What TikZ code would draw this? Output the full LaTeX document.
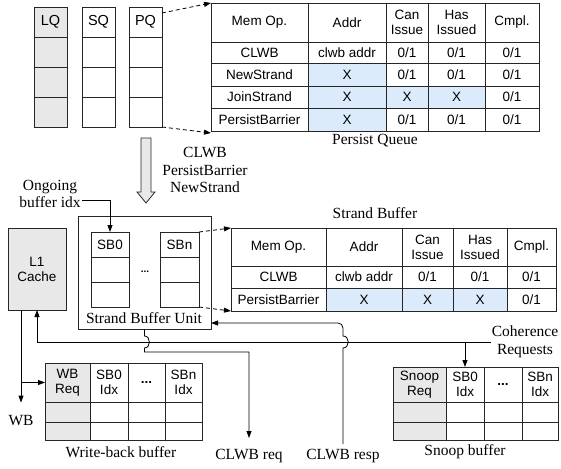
\documentclass[tikz,border=0pt]{standalone}
\usepackage{fontspec}
\setmainfont{Liberation Serif}
\setsansfont{Liberation Sans}
\usetikzlibrary{arrows.meta}

\definecolor{cellgray}{RGB}{232,232,232}
\definecolor{cellblue}{RGB}{220,235,252}

\tikzset{
  cell/.style={draw=black!85, line width=0.9pt, anchor=north west, inner sep=0pt, outer sep=0pt, align=center, font=\sffamily\fontsize{13.5}{15}\selectfont},
  lbl/.style={align=center, inner sep=1pt, font=\fontsize{15.5}{17.5}\selectfont},
  conn/.style={-{Triangle[length=7pt,width=5pt]}, line width=0.8pt},
  dashconn/.style={conn, dash pattern=on 4pt off 3pt},
  bigarrow/.style={draw=black!85, line width=0.8pt, fill=cellgray},
}

\begin{document}
\begin{tikzpicture}[x=1pt,y=-1pt]
\useasboundingbox (0,0) rectangle (561,468);
\newcommand{\pqcols}{{211,308,386,428,485,539}}
\newcommand{\sbcols}{{231,326,402,453,507,556}}
\newcommand{\wbcols}{{45,90,128,165,202}}
\newcommand{\sncols}{{393,446,484,522,558}}
\newcommand{\cellrow}[5]{%
  \foreach \txt/\fil [count=\col] in {#5} {
    \pgfmathsetmacro{\xa}{#2[\col-1]}
    \pgfmathsetmacro{\xb}{#2[\col]}
    \node [cell, fill=\fil, minimum width={(\xb-\xa)*1pt}, minimum height={(#4-#3)*1pt}] (#1-\col) at (\xa,#3) {\txt};
  }}

\foreach \qn/\qt/\qa/\qb/\qf in {lqc/LQ/34/67/cellgray, sqc/SQ/82/115/white, pqc/PQ/129/162/white} {
  \node [cell, fill=\qf, font=\sffamily\fontsize{14.5}{16}\selectfont, minimum width={(\qb-\qa)*1pt}, minimum height=30pt] (\qn0) at (\qa,7) {\qt};
  \foreach \r in {1,2,3}
    \node [cell, fill=\qf, minimum width={(\qb-\qa)*1pt}, minimum height=30pt] (\qn\r) at (\qa,7+30*\r) {};
}

\cellrow{pqh}{\pqcols}{3}{42}{Mem Op./white, Addr/white, {Can\\Issue}/white, {Has\\Issued}/white, Cmpl./white}
\cellrow{pq1}{\pqcols}{42}{63}{CLWB/white, clwb addr/white, {0/1}/white, {0/1}/white, {0/1}/white}
\cellrow{pq2}{\pqcols}{63}{86}{NewStrand/white, X/cellblue, {0/1}/white, {0/1}/white, {0/1}/white}
\cellrow{pq3}{\pqcols}{86}{108}{JoinStrand/white, X/cellblue, X/cellblue, X/cellblue, {0/1}/white}
\cellrow{pq4}{\pqcols}{108}{131}{PersistBarrier/white, X/cellblue, {0/1}/white, {0/1}/white, {0/1}/white}
\node [lbl] (pqcap) at (375,141) {Persist Queue};

\draw [bigarrow] (141,138) -- (151,138) -- (151,192) -- (155,192) -- (146,203) -- (137,192) -- (141,192) -- cycle;
\node [lbl] (ops) at (205,170) {CLWB\\PersistBarrier\\NewStrand};
\node [lbl] (ongoing) at (50,194) {Ongoing\\buffer idx};

\node [cell, minimum width=133pt, minimum height=113pt] (sbu) at (78,216) {};
\foreach \sn/\st/\sa/\sb in {sbz/SB0/91/129, sbn/SBn/160/199} {
  \node [cell, fill=white, minimum width={(\sb-\sa)*1pt}, minimum height=25pt] (\sn0) at (\sa,232) {\st};
  \foreach \r in {1,2}
    \node [cell, fill=white, minimum width={(\sb-\sa)*1pt}, minimum height=25pt] (\sn\r) at (\sa,232+25*\r) {};
}
\node [font=\sffamily\bfseries] (dots) at (145,272) {...};
\node [lbl] (sbulbl) at (144,318) {Strand Buffer Unit};
\node [cell, fill=cellgray, minimum width=58pt, minimum height=82pt] (l1) at (8,228) {L1\\Cache};

\node [lbl] (sbcap) at (375,213) {Strand Buffer};
\cellrow{sbh}{\sbcols}{228}{266}{Mem Op./white, Addr/white, {Can\\Issue}/white, {Has\\Issued}/white, Cmpl./white}
\cellrow{sb1}{\sbcols}{266}{288}{CLWB/white, clwb addr/white, {0/1}/white, {0/1}/white, {0/1}/white}
\cellrow{sb2}{\sbcols}{288}{311}{PersistBarrier/white, X/cellblue, X/cellblue, X/cellblue, {0/1}/white}

\cellrow{wbh}{\wbcols}{363}{402}{{WB\\Req}/cellgray, {SB0\\Idx}/white, \textbf{...}/white, {SBn\\Idx}/white}
\cellrow{wb1}{\wbcols}{402}{422}{/cellgray, /white, /white, /white}
\cellrow{wb2}{\wbcols}{422}{440}{/cellgray, /white, /white, /white}
\node [lbl] (wbcap) at (121,452) {Write-back buffer};
\node [lbl] (wb) at (21,421) {WB};

\cellrow{snh}{\sncols}{367}{402}{{Snoop\\Req}/cellgray, {SB0\\Idx}/white, \textbf{...}/white, {SBn\\Idx}/white}
\cellrow{sn1}{\sncols}{402}{422}{/cellgray, /white, /white, /white}
\cellrow{sn2}{\sncols}{422}{440}{/cellgray, /white, /white, /white}
\node [lbl] (sncap) at (465,452) {Snoop buffer};
\node [lbl] (coh) at (525,342) {Coherence\\Requests};
\node [lbl] (req) at (249,456) {CLWB req};
\node [lbl] (resp) at (343,456) {CLWB resp};

\draw [dashconn] ([yshift=-6pt]pqc0.north east) -- (pqh-1.north west);
\draw [dashconn] (pqc3.south east) -- ([yshift=-2pt]pq4-1.south west);
\draw [dashconn] (sbn0.north east) -- (sbh-1.north west);
\draw [dashconn] (sbn2.south east) -- (sb2-1.south west);
\draw [conn] ([yshift=-6pt]ongoing.east) -| (sbz0.north);
\draw [conn] (l1.south -| wb) -- ([yshift=12pt]wb.north);
\draw [conn] (wbh-1.west -| wb) -- (wbh-1.west);
\draw [conn] (coh.west) -| (l1.south);
\draw [conn] (snh-2.north |- coh.west) -- (snh-2.north);
\draw [conn] (sbu.south) -- (144.5,336) .. controls (151,336) and (151,348) .. (144.5,348) -- (144.5,352) -| ([yshift=10pt]req.north);
\draw [conn] ([yshift=4pt]resp.north) -- (343,348) .. controls (350,348) and (350,336) .. (343,336) [rounded corners=5pt] -- (343,323) -- (sbu.east |- 0,323);
\end{tikzpicture}
\end{document}
